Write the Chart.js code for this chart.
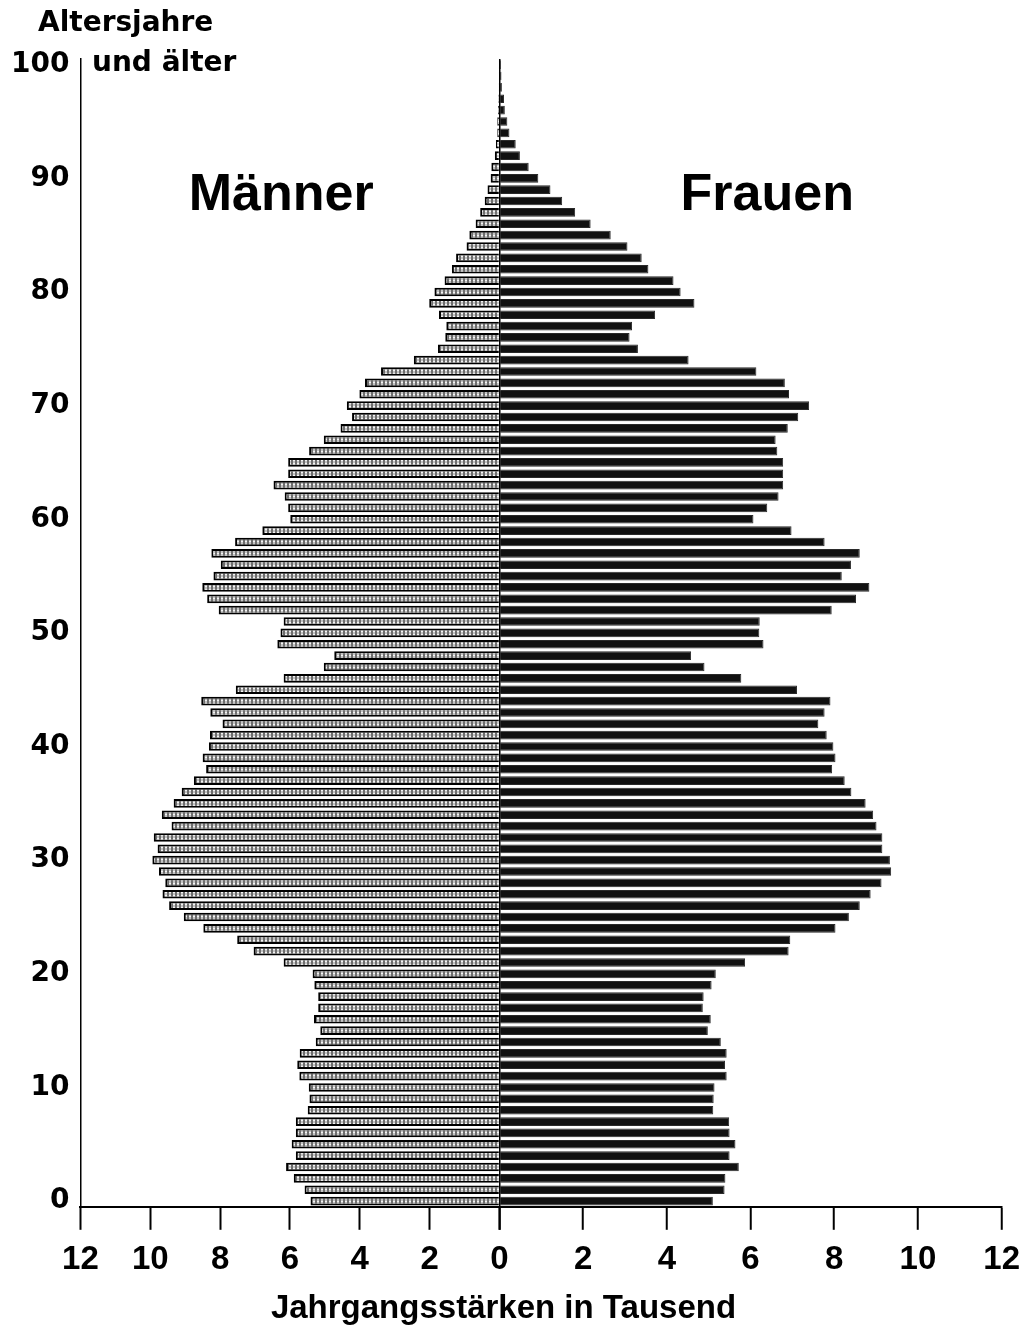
<!DOCTYPE html>
<html lang="de">
<head>
  <meta charset="UTF-8">
  <title>Alterspyramide</title>
  <script src="https://cdn.jsdelivr.net/npm/chart.js"></script>
  <style>
    html, body { margin: 0; padding: 0; background: #fff; }
    #pyramid { display: block; }
  </style>
</head>
<body>
  <canvas id="pyramid" width="1030" height="1329"></canvas>

  <script>
    // Altersjahre 0 .. 100 (100 = "100 und älter")
    const ages = Array.from({ length: 101 }, (_, i) => i);
    const ageTicks = [0, 10, 20, 30, 40, 50, 60, 70, 80, 90, 100];
    const valueTicks = [0, 2, 4, 6, 8, 10, 12];

    // Jahrgangsstärken in Tausend, Index = Alter
    const maenner = [
      5.41, 5.58, 5.89, 6.11, 5.83, 5.95, 5.83, 5.83, 5.49, 5.44,
      5.46, 5.73, 5.79, 5.72, 5.26, 5.13, 5.31, 5.19, 5.19, 5.30,
      5.35, 6.18, 7.04, 7.51, 8.48, 9.04, 9.46, 9.65, 9.57, 9.75,
      9.94, 9.79, 9.90, 9.39, 9.67, 9.33, 9.10, 8.75, 8.40, 8.50,
      8.32, 8.29, 7.93, 8.28, 8.54, 7.55, 6.18, 5.03, 4.73, 6.36,
      6.27, 6.18, 8.04, 8.37, 8.51, 8.19, 7.98, 8.25, 7.57, 6.79,
      5.99, 6.05, 6.15, 6.47, 6.05, 6.05, 5.45, 5.03, 4.55, 4.22,
      4.37, 4.01, 3.85, 3.39, 2.45, 1.76, 1.55, 1.52, 1.73, 2.01,
      1.86, 1.57, 1.36, 1.24, 0.94, 0.86, 0.68, 0.55, 0.42, 0.34,
      0.25, 0.23, 0.13, 0.10, 0.06, 0.06, 0.04, 0.03, 0.02, 0.01,
      0.01
    ];
    const frauen = [
      5.10, 5.38, 5.40, 5.72, 5.50, 5.64, 5.50, 5.49, 5.11, 5.12,
      5.14, 5.43, 5.39, 5.43, 5.29, 4.98, 5.05, 4.86, 4.88, 5.07,
      5.17, 5.87, 6.91, 6.95, 8.03, 8.35, 8.61, 8.87, 9.13, 9.36,
      9.33, 9.15, 9.15, 9.01, 8.93, 8.75, 8.41, 8.25, 7.95, 8.03,
      7.98, 7.82, 7.62, 7.77, 7.91, 7.11, 5.78, 4.90, 4.58, 6.31,
      6.21, 6.22, 7.94, 8.52, 8.84, 8.18, 8.40, 8.61, 7.77, 6.98,
      6.07, 6.40, 6.67, 6.78, 6.78, 6.78, 6.64, 6.60, 6.89, 7.14,
      7.40, 6.92, 6.82, 6.14, 4.52, 3.31, 3.11, 3.17, 3.72, 4.66,
      4.33, 4.16, 3.56, 3.40, 3.06, 2.66, 2.18, 1.81, 1.50, 1.22,
      0.93, 0.70, 0.49, 0.39, 0.24, 0.19, 0.13, 0.11, 0.06, 0.05,
      0.04
    ];

    // gepunktete Füllung der Männerbalken
    function stipple() {
      const c = document.createElement('canvas');
      c.width = 4;
      c.height = 3;
      const g = c.getContext('2d');
      g.fillStyle = '#6e6e6e';
      g.fillRect(0, 0, 4, 3);
      g.fillStyle = '#c4c4c4';
      g.fillRect(1, 0, 2, 3);
      g.fillStyle = '#f4f4f4';
      g.fillRect(1, 1, 2, 1);
      return g.createPattern(c, 'repeat');
    }

    const setTicks = scale => {
      scale.ticks = valueTicks.map(v => ({ value: v }));
    };

    // Beschriftungen im Diagramm
    const textPlugin = {
      id: 'pyramidText',
      afterDraw(chart) {
        const { ctx, scales } = chart;
        ctx.save();
        ctx.fillStyle = '#000';
        ctx.textBaseline = 'alphabetic';
        ctx.textAlign = 'left';
        ctx.font = 'bold 28px "DejaVu Sans"';
        ctx.fillText('Altersjahre', 38, 31);
        ctx.fillText('und älter', 92, 71);

        ctx.font = 'bold 52px "Liberation Sans"';
        ctx.textAlign = 'center';
        const base = scales.y.getPixelForValue(87.2);
        ctx.fillText('Männer', scales.xm.getPixelForValue(6.25), base);
        ctx.fillText('Frauen', scales.xf.getPixelForValue(6.4), base);
        ctx.restore();
      }
    };

    const tickFont = { family: 'Liberation Sans', size: 33, weight: 'bold' };

    new Chart(document.getElementById('pyramid'), {
      type: 'bar',
      data: {
        labels: ages,
        datasets: [
          {
            label: 'Männer',
            data: maenner,
            xAxisID: 'xm',
            backgroundColor: stipple(),
            borderColor: '#000',
            borderWidth: 2
          },
          {
            label: 'Frauen',
            data: frauen,
            xAxisID: 'xf',
            backgroundColor: '#111',
            borderColor: '#2a2a2a',
            borderWidth: 1
          }
        ]
      },
      options: {
        indexAxis: 'y',
        responsive: false,
        animation: false,
        layout: { padding: { left: 0, right: 23, top: 59, bottom: 0 } },
        datasets: {
          bar: { grouped: false, barPercentage: 0.76, categoryPercentage: 1 }
        },
        scales: {
          y: {
            type: 'category',
            reverse: true,
            offset: true,
            grid: { display: false, drawTicks: false },
            border: { display: true, color: '#000', width: 1.5 },
            ticks: {
              autoSkip: false,
              padding: 11,
              color: '#000',
              font: { family: 'DejaVu Sans', size: 28, weight: 'bold' },
              callback: (v, i) => ageTicks.includes(ages[i]) ? String(ages[i]) : ''
            }
          },
          xm: {
            type: 'linear',
            position: 'bottom',
            stack: 'werte',
            stackWeight: 421.3,
            min: 0,
            max: 12,
            reverse: true,
            afterBuildTicks: setTicks,
            grid: {
              color: 'rgba(0,0,0,0)',
              tickColor: '#000',
              tickLength: 23,
              tickWidth: 2
            },
            border: { display: true, color: '#000', width: 2 },
            ticks: {
              autoSkip: false,
              maxRotation: 0,
              minRotation: 0,
              padding: 10,
              color: '#000',
              font: tickFont,
              callback: v => v === 0 ? '' : v
            }
          },
          xf: {
            type: 'linear',
            position: 'bottom',
            stack: 'werte',
            stackWeight: 505.1,
            min: 0,
            max: 12,
            afterBuildTicks: setTicks,
            grid: {
              color: ctx => ctx.tick && ctx.tick.value === 0 ? '#000' : 'rgba(0,0,0,0)',
              lineWidth: 1.5,
              tickColor: '#000',
              tickLength: 23,
              tickWidth: 2
            },
            border: { display: true, color: '#000', width: 2 },
            ticks: {
              autoSkip: false,
              maxRotation: 0,
              minRotation: 0,
              padding: 10,
              color: '#000',
              font: tickFont
            }
          }
        },
        plugins: {
          legend: { display: false },
          tooltip: { enabled: false },
          title: {
            display: true,
            position: 'bottom',
            text: 'Jahrgangsstärken in Tausend',
            color: '#000',
            font: { family: 'Liberation Sans', size: 33, weight: 'bold' },
            padding: { top: 0, bottom: 0 }
          }
        }
      },
      plugins: [textPlugin]
    });
  </script>
</body>
</html>
